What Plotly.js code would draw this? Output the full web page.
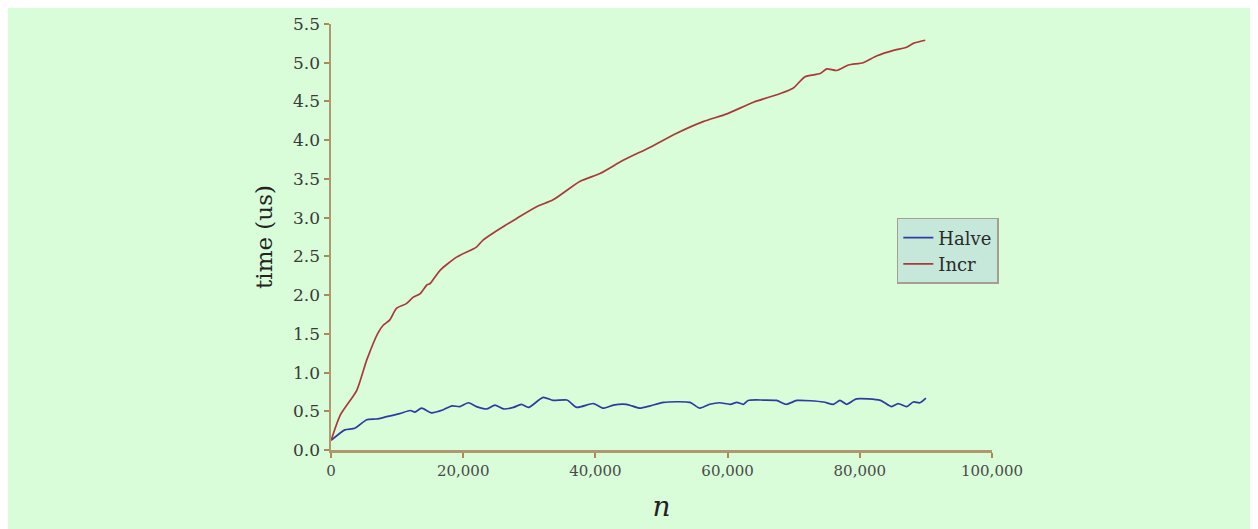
<!DOCTYPE html>
<html>
<head>
<meta charset="utf-8">
<script src="https://cdn.plot.ly/plotly-3.0.1.min.js"></script>
<style>
  html, body { margin: 0; padding: 0; background: #ffffff; }
  #chart { position: absolute; left: 8px; top: 8px; width: 1242px; height: 521px; }
</style>
</head>
<body>
<div id="chart"></div>
<script>
const incrN = [0, 1400, 3900, 5400, 7100, 7900, 8900, 9900, 11400, 12400, 13500, 14500, 15000, 16500, 19000, 22000, 23000, 25600, 28100, 31100, 33600, 37700, 40700, 44200, 48300, 52300, 56300, 59900, 63900, 67900, 69900, 71700, 74000, 75000, 76500, 78300, 80500, 82600, 85100, 87100, 88100, 89900];
const incrT = [0.12, 0.45, 0.77, 1.16, 1.51, 1.61, 1.68, 1.83, 1.89, 1.97, 2.02, 2.13, 2.15, 2.32, 2.49, 2.62, 2.71, 2.86, 2.99, 3.14, 3.23, 3.47, 3.57, 3.74, 3.91, 4.09, 4.24, 4.34, 4.49, 4.60, 4.67, 4.82, 4.86, 4.92, 4.90, 4.97, 5.00, 5.09, 5.16, 5.20, 5.25, 5.29];

const halveN = [100, 2100, 3600, 5400, 6900, 8400, 10400, 12000, 12700, 13700, 15200, 17000, 18300, 19500, 20800, 22000, 23600, 24800, 26100, 27600, 28800, 29900, 32100, 33600, 35700, 37200, 39700, 41200, 42700, 44700, 46700, 48300, 50300, 54300, 55800, 57300, 58800, 60400, 61400, 62400, 63100, 65400, 67400, 68900, 70500, 74500, 76000, 77000, 78000, 79500, 83100, 84800, 85800, 87100, 88100, 89100, 90000];
const halveT = [0.13, 0.26, 0.28, 0.39, 0.40, 0.43, 0.47, 0.51, 0.49, 0.54, 0.48, 0.52, 0.57, 0.56, 0.61, 0.56, 0.53, 0.58, 0.53, 0.55, 0.59, 0.55, 0.68, 0.64, 0.645, 0.55, 0.60, 0.54, 0.58, 0.59, 0.54, 0.57, 0.615, 0.615, 0.54, 0.59, 0.61, 0.59, 0.615, 0.59, 0.64, 0.645, 0.64, 0.59, 0.64, 0.62, 0.59, 0.64, 0.59, 0.66, 0.64, 0.56, 0.60, 0.56, 0.62, 0.61, 0.67];

const xTicks = [0, 20000, 40000, 60000, 80000, 100000];
const yTicks = [0.0, 0.5, 1.0, 1.5, 2.0, 2.5, 3.0, 3.5, 4.0, 4.5, 5.0, 5.5];

const serif = "DejaVu Serif, serif";
const axisCol = "#ad9870";
const traces = [
  { x: halveN, y: halveT, name: "Halve", mode: "lines", type: "scatter",
    line: { color: "#2e3ca0", width: 1.7, shape: "spline", smoothing: 0.6 } },
  { x: incrN, y: incrT, name: "Incr", mode: "lines", type: "scatter",
    line: { color: "#aa3a3a", width: 1.7, shape: "spline", smoothing: 0.6 } }
];
const layout = {
  width: 1242, height: 521,
  paper_bgcolor: "#d9fcd9", plot_bgcolor: "#d9fcd9",
  margin: { l: 323, r: 258, t: 16, b: 79 },
  font: { family: serif, color: "#333333", size: 15 },
  showlegend: true,
  legend: { x: 0.856, y: 0.545, xanchor: "left", yanchor: "top",
    bgcolor: "#c6e8da", bordercolor: "#a89c94", borderwidth: 1.5,
    font: { family: serif, size: 18, color: "#2a2a2a" } },
  xaxis: { range: [0, 100000], tickvals: xTicks, tickformat: ",d",
    showgrid: false, zeroline: false, showline: true, linecolor: axisCol, linewidth: 2.5,
    ticks: "outside", ticklen: 5, tickcolor: "#b08850", tickwidth: 2,
    tickfont: { family: serif, size: 15, color: "#4a4a4a" },
    title: { text: "n", font: { family: serif, size: 28, color: "#222222", style: "italic" }, standoff: 18 } },
  yaxis: { range: [0, 5.5], tickvals: yTicks, tickformat: ".1f",
    showgrid: false, zeroline: false, showline: true, linecolor: axisCol, linewidth: 2.5,
    ticks: "outside", ticklen: 5, tickcolor: "#b08850", tickwidth: 2,
    tickfont: { family: serif, size: 17, color: "#3a3a3a" },
    title: { text: "time (us)", font: { family: serif, size: 23, color: "#222222" }, standoff: 14 } }
};
Plotly.newPlot("chart", traces, layout, { staticPlot: true });
</script>
</body>
</html>
